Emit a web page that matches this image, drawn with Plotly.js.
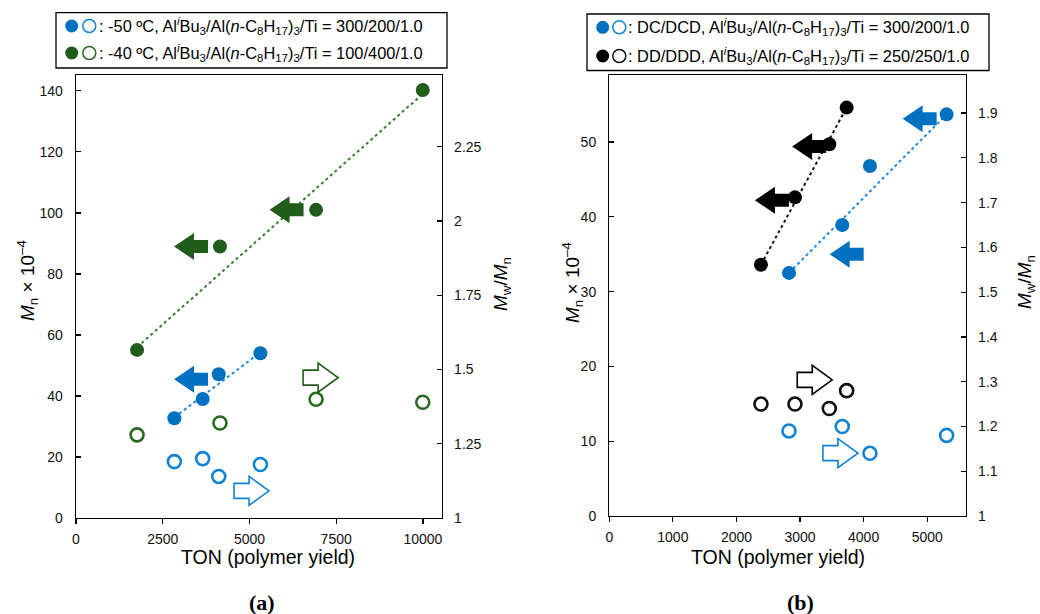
<!DOCTYPE html>
<html>
<head>
<meta charset="utf-8">
<script src="https://cdn.plot.ly/plotly-3.0.1.min.js"></script>
<style>html,body{margin:0;padding:0;background:#fff;}#chart{width:1040px;height:614px;}</style>
</head>
<body>
<div id="chart"></div>
<script>
// ---------- Data: panel (a) ----------
const tonA_m50 = [2835, 3652, 4114, 5315];
const mnA_m50  = [32.7, 39.0, 47.1, 54.0];
const pdiA_m50 = [1.19, 1.20, 1.14, 1.18];
const tonA_m40 = [1760, 4150, 6920, 9995];
const mnA_m40  = [55.1, 89.0, 101.0, 140.3];
const pdiA_m40 = [1.28, 1.32, 1.40, 1.39];
const fitA_m50_ton = [2835, 5315];
const fitA_m50_mn  = [33.0, 54.3];
const fitA_m40_ton = [1760, 9995];
const fitA_m40_mn  = [56.0, 139.0];

// ---------- Data: panel (b) ----------
const tonB_dc = [2826, 3664, 4099, 5305];
const mnB_dc  = [32.5, 38.9, 46.8, 53.7];
const pdiB_dc = [1.19, 1.20, 1.14, 1.18];
const tonB_dd = [2385, 2920, 3460, 3733];
const mnB_dd  = [33.6, 42.6, 49.7, 54.6];
const pdiB_dd = [1.25, 1.25, 1.24, 1.28];
const fitB_dc_ton = [2826, 5305];
const fitB_dc_mn  = [32.5, 53.7];
const fitB_dd_ton = [2385, 3733];
const fitB_dd_mn  = [33.6, 54.6];

// tick values
const xTicksA = [0, 2500, 5000, 7500, 10000];
const yTicksA = [0, 20, 40, 60, 80, 100, 120, 140];
const y2TicksA = [1, 1.25, 1.5, 1.75, 2, 2.25];
const xTicksB = [0, 1000, 2000, 3000, 4000, 5000];
const yTicksB = [0, 10, 20, 30, 40, 50];
const y2TicksB = [1, 1.1, 1.2, 1.3, 1.4, 1.5, 1.6, 1.7, 1.8, 1.9];

// arrow anchors (data coordinates: TON, Mn)
const arrowsA = [
  {x: 3316, y: 89.0, dir: 'left', fill: true, c: 'green'},
  {x: 6070, y: 101.0, dir: 'left', fill: true, c: 'green'},
  {x: 3316, y: 45.5, dir: 'left', fill: true, c: 'blue'},
  {x: 7050, y: 46.0, dir: 'right', fill: false, c: 'green'},
  {x: 5061, y: 8.9, dir: 'right', fill: false, c: 'blue'}
];
const arrowsB = [
  {x: 3143, y: 49.4, dir: 'left', fill: true, c: 'black'},
  {x: 2558, y: 42.2, dir: 'left', fill: true, c: 'black'},
  {x: 4881, y: 53.1, dir: 'left', fill: true, c: 'blue'},
  {x: 3733, y: 35.0, dir: 'left', fill: true, c: 'blue'},
  {x: 3231, y: 18.2, dir: 'right', fill: false, c: 'black'},
  {x: 3635, y: 8.4, dir: 'right', fill: false, c: 'blue'}
];

// ---------- styles ----------
const COL = {
  blue: '#0070C0', blueOpen: '#1282D2', blueLine: '#1a8ae0',
  green: '#215C1B', greenOpen: '#2A6A22', greenLine: '#3a7d32',
  black: '#000000', blackOpen: '#111111', blackLine: '#111111'
};
const FONT = 'Liberation Sans, Arial, sans-serif';
const W = 1040, H = 614;
const px = v => v / W;
const py = v => 1 - v / H;

function filled(x, y, color, xa, ya) {
  return {x, y, xaxis: xa, yaxis: ya, type: 'scatter', mode: 'markers',
    marker: {size: 14, color: color, line: {width: 0}}, hoverinfo: 'skip'};
}
function hollow(x, y, color, xa, ya) {
  return {x, y, xaxis: xa, yaxis: ya, type: 'scatter', mode: 'markers',
    marker: {size: 13, color: '#ffffff', line: {width: 2.6, color: color}}, hoverinfo: 'skip'};
}
function fit(x, y, color, xa, ya) {
  return {x, y, xaxis: xa, yaxis: ya, type: 'scatter', mode: 'lines',
    line: {color: color, width: 2, dash: 'dot'}, hoverinfo: 'skip'};
}

const traces = [
  fit(fitA_m40_ton, fitA_m40_mn, COL.greenLine, 'x', 'y'),
  fit(fitA_m50_ton, fitA_m50_mn, COL.blueLine, 'x', 'y'),
  filled(tonA_m40, mnA_m40, COL.green, 'x', 'y'),
  filled(tonA_m50, mnA_m50, COL.blue, 'x', 'y'),
  hollow(tonA_m40, pdiA_m40, COL.greenOpen, 'x', 'y2'),
  hollow(tonA_m50, pdiA_m50, COL.blueOpen, 'x', 'y2'),
  fit(fitB_dd_ton, fitB_dd_mn, COL.blackLine, 'x2', 'y3'),
  fit(fitB_dc_ton, fitB_dc_mn, COL.blueLine, 'x2', 'y3'),
  filled(tonB_dd, mnB_dd, COL.black, 'x2', 'y3'),
  filled(tonB_dc, mnB_dc, COL.blue, 'x2', 'y3'),
  hollow(tonB_dd, pdiB_dd, COL.blackOpen, 'x2', 'y4'),
  hollow(tonB_dc, pdiB_dc, COL.blueOpen, 'x2', 'y4')
];

// ---------- arrows as pixel-sized path shapes ----------
function arrowPath(dir, filledArrow) {
  const L = filledArrow ? 17 : 17.5, hx = filledArrow ? 3 : 2.5;
  const hh = filledArrow ? 13.5 : 14.5, sh = filledArrow ? 6.5 : 7.5;
  let pts = [[-L, 0], [hx, hh], [hx, sh], [L, sh], [L, -sh], [hx, -sh], [hx, -hh]];
  if (dir === 'right') pts = pts.map(p => [-p[0], p[1]]);
  return 'M' + pts.map(p => p[0] + ',' + p[1]).join('L') + 'Z';
}
const shapes = [];
function addArrows(list, xref, yref) {
  list.forEach(a => {
    const col = COL[a.c];
    shapes.push({
      type: 'path', xref: xref, yref: yref, xsizemode: 'pixel', ysizemode: 'pixel',
      xanchor: a.x, yanchor: a.y, path: arrowPath(a.dir, a.fill),
      fillcolor: a.fill ? col : '#ffffff',
      line: {color: a.fill ? col : (a.c === 'blue' ? COL.blueOpen : col), width: a.fill ? 0 : 1.6},
      layer: 'above'
    });
  });
}
addArrows(arrowsA, 'x', 'y');
addArrows(arrowsB, 'x2', 'y3');

// legend boxes
shapes.push({type: 'rect', xref: 'paper', yref: 'paper', x0: px(56), x1: px(447), y0: py(68), y1: py(12.7),
  line: {color: '#000', width: 1.3}, fillcolor: 'rgba(0,0,0,0)'});
shapes.push({type: 'rect', xref: 'paper', yref: 'paper', x0: px(587), x1: px(989), y0: py(70.5), y1: py(14),
  line: {color: '#000', width: 1.3}, fillcolor: 'rgba(0,0,0,0)'});
// legend circles
function legendCircle(cx, cy, color, isFilled) {
  shapes.push({type: 'circle', xref: 'paper', yref: 'paper', xsizemode: 'pixel', ysizemode: 'pixel',
    xanchor: px(cx), yanchor: py(cy), x0: -6.5, x1: 6.5, y0: -6.5, y1: 6.5,
    fillcolor: isFilled ? color : '#ffffff', line: {color: color, width: isFilled ? 0 : 1.5}});
}
legendCircle(71.7, 26, COL.blue, true);
legendCircle(89.3, 26, COL.blueOpen, false);
legendCircle(71.7, 53, COL.green, true);
legendCircle(89.3, 53, COL.greenOpen, false);
legendCircle(602.7, 27.3, COL.blue, true);
legendCircle(619.3, 27.3, COL.blueOpen, false);
legendCircle(602.7, 56, COL.black, true);
legendCircle(619.3, 56, COL.blackOpen, false);

const chem = 'Al<sup><i>i</i></sup>Bu<sub>3</sub>/Al(<i>n</i>-C<sub>8</sub>H<sub>17</sub>)<sub>3</sub>/Ti';
const legendTexts = [
  {x: 97, y: 26, t: ': -50 ºC, ' + chem + ' = 300/200/1.0'},
  {x: 97, y: 53, t: ': -40 ºC, ' + chem + ' = 100/400/1.0'},
  {x: 626, y: 27.3, t: ': DC/DCD, ' + chem + ' = 300/200/1.0'},
  {x: 626, y: 56, t: ': DD/DDD, ' + chem + ' = 250/250/1.0'}
];

const annotations = legendTexts.map(l => ({
  xref: 'paper', yref: 'paper', x: px(l.x), y: py(l.y), xanchor: 'left', yanchor: 'middle',
  text: l.t, showarrow: false, font: {family: FONT, size: 16.4, color: '#000'}
}));

const titleFont = {family: FONT, size: 19, color: '#000'};
const mnTitle = '<i>M</i><sub>n</sub> × 10<sup>–4</sup>';
const pdiTitle = '<i>M</i><sub>w</sub>/<i>M</i><sub>n</sub>';
annotations.push(
  {xref: 'paper', yref: 'paper', x: px(268), y: py(557), text: 'TON (polymer yield)', showarrow: false, font: {family: FONT, size: 19.5, color: '#000'}, xanchor: 'center', yanchor: 'middle'},
  {xref: 'paper', yref: 'paper', x: px(778), y: py(557), text: 'TON (polymer yield)', showarrow: false, font: {family: FONT, size: 19.5, color: '#000'}, xanchor: 'center', yanchor: 'middle'},
  {xref: 'paper', yref: 'paper', x: px(27), y: py(281), text: mnTitle, textangle: -90, showarrow: false, font: titleFont, xanchor: 'center', yanchor: 'middle'},
  {xref: 'paper', yref: 'paper', x: px(502), y: py(284), text: pdiTitle, textangle: -90, showarrow: false, font: titleFont, xanchor: 'center', yanchor: 'middle'},
  {xref: 'paper', yref: 'paper', x: px(572), y: py(283), text: mnTitle, textangle: -90, showarrow: false, font: titleFont, xanchor: 'center', yanchor: 'middle'},
  {xref: 'paper', yref: 'paper', x: px(1026), y: py(282), text: pdiTitle, textangle: -90, showarrow: false, font: titleFont, xanchor: 'center', yanchor: 'middle'},
  {xref: 'paper', yref: 'paper', x: px(262), y: py(602), text: '<b>(a)</b>', showarrow: false, font: {family: 'Liberation Serif, DejaVu Serif, serif', size: 22, color: '#000'}, xanchor: 'center', yanchor: 'middle'},
  {xref: 'paper', yref: 'paper', x: px(800), y: py(602), text: '<b>(b)</b>', showarrow: false, font: {family: 'Liberation Serif, DejaVu Serif, serif', size: 22, color: '#000'}, xanchor: 'center', yanchor: 'middle'}
);

const tickFont = {family: FONT, size: 14, color: '#111'};
function xAxis(domain, range, vals, anchor) {
  return {domain, range, anchor, tickvals: vals, ticktext: vals.map(String), ticks: 'outside', ticklen: 5,
    tickwidth: 1.2, tickcolor: '#000', showline: true, linecolor: '#000', linewidth: 1.3, mirror: true,
    showgrid: false, zeroline: false, tickfont: tickFont, fixedrange: true, ticklabelstandoff: 3};
}
function yLeft(domain, range, vals, anchor) {
  return {domain, range, anchor, tickvals: vals, ticktext: vals.map(String), ticks: 'inside', ticklen: 5,
    tickwidth: 1.2, tickcolor: '#000', showline: true, linecolor: '#000', linewidth: 1.3,
    showgrid: false, zeroline: false, tickfont: tickFont, fixedrange: true, ticklabelstandoff: 9};
}
function yRight(range, vals, anchor, overlay) {
  return {range, anchor, overlaying: overlay, side: 'right', tickvals: vals, ticktext: vals.map(String),
    ticks: 'inside', ticklen: 5, tickwidth: 1.2, tickcolor: '#000', showline: true, linecolor: '#000', linewidth: 1.3,
    showgrid: false, zeroline: false, tickfont: tickFont, fixedrange: true, ticklabelstandoff: 8};
}

const yDomA = [(H - 518) / H, (H - 75) / H];
const yDomB = [(H - 516) / H, (H - 75) / H];

const layout = {
  width: W, height: H,
  margin: {l: 0, r: 0, t: 0, b: 0},
  paper_bgcolor: '#fff', plot_bgcolor: '#fff',
  showlegend: false,
  xaxis: xAxis([px(76), px(442)], [0, 10550], xTicksA, 'y'),
  yaxis: yLeft(yDomA, [0, 145.2], yTicksA, 'x'),
  yaxis2: yRight([1, 2.492], y2TicksA, 'x', 'y'),
  xaxis2: xAxis([px(609.3), px(966)], [0, 5610], xTicksB, 'y3'),
  yaxis3: yLeft(yDomB, [0, 58.96], yTicksB, 'x2'),
  yaxis4: yRight([1, 1.985], y2TicksB, 'x2', 'y3'),
  shapes, annotations
};

Plotly.newPlot('chart', traces, layout, {displayModeBar: false, staticPlot: true});
</script>
</body>
</html>
